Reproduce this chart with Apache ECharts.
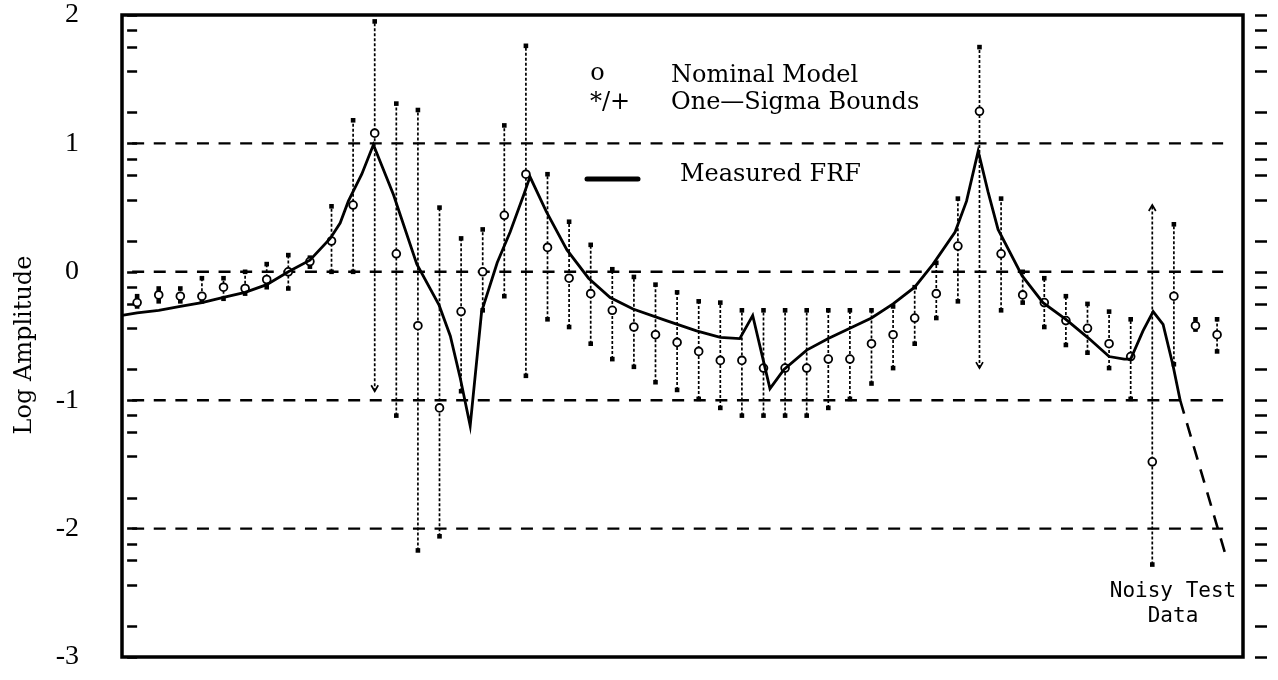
<!DOCTYPE html>
<html>
<head>
<meta charset="utf-8">
<title>Log Amplitude — Nominal Model vs Measured FRF</title>
<script src="https://cdn.jsdelivr.net/npm/echarts@6/dist/echarts.min.js"></script>
<style>
  html, body { margin: 0; padding: 0; background: #fff; }
  #chart { width: 1278px; height: 680px; }
</style>
</head>
<body>
<div id="chart"></div>
<script>
// ---- data ---------------------------------------------------------------
// Nominal model log-amplitude at each frequency bin (0..50)
const nominal = [
  -0.24, -0.18, -0.19, -0.19, -0.12, -0.13, -0.06, 0.00, 0.08, 0.24,
   0.52,  1.08,  0.14, -0.42, -1.06, -0.31,  0.00, 0.44, 0.76, 0.19,
  -0.05, -0.17, -0.30, -0.43, -0.49, -0.55, -0.62, -0.69, -0.69, -0.75,
  -0.75, -0.75, -0.68, -0.68, -0.56, -0.49, -0.36, -0.17, 0.20, 1.25,
   0.14, -0.18, -0.24, -0.38, -0.44, -0.56, -0.66, -1.48, -0.19, -0.42,
  -0.49
];
// One-sigma upper bounds
const upper = [
  -0.19, -0.13, -0.13, -0.05, -0.05, 0.00, 0.06, 0.13, 0.11, 0.51,
   1.18,  1.95,  1.31,  1.26,  0.50, 0.26, 0.33, 1.14, 1.76, 0.76,
   0.39,  0.21,  0.02, -0.04, -0.10, -0.16, -0.23, -0.24, -0.30, -0.30,
  -0.30, -0.30, -0.30, -0.30, -0.30, -0.27, -0.12, 0.07, 0.57, 1.75,
   0.57,  0.00, -0.05, -0.19, -0.25, -0.31, -0.37, 0.52, 0.37, -0.37,
  -0.37
];
// One-sigma lower bounds
const lower = [
  -0.27, -0.23, -0.23, -0.23, -0.21, -0.17, -0.12, -0.13, 0.04, 0.00,
   0.00, -0.93, -1.12, -2.17, -2.06, -0.93, -0.30, -0.19, -0.81, -0.37,
  -0.43, -0.56, -0.68, -0.74, -0.86, -0.92, -0.99, -1.06, -1.12, -1.12,
  -1.12, -1.12, -1.06, -0.99, -0.87, -0.75, -0.56, -0.36, -0.23, -0.75,
  -0.30, -0.24, -0.43, -0.57, -0.63, -0.75, -0.99, -2.28, -0.72, -0.45,
  -0.62
];
// Bins whose bound runs off and ends in an arrowhead
const arrowLowBins = [11, 39];
const arrowHighBins = [47];

// Measured FRF trace: [bin, log amplitude]
const frfCurve = [
  [-0.7, -0.34], [0, -0.32], [1, -0.30], [2, -0.27], [3, -0.24], [4, -0.20],
  [5, -0.16], [6, -0.10], [7, 0.00], [8, 0.09], [8.94, 0.26], [9.4, 0.38],
  [9.78, 0.55], [10.4, 0.76], [10.94, 0.99], [11.87, 0.60], [12.95, 0.06],
  [13.98, -0.26], [14.5, -0.50], [14.95, -0.82], [15.42, -1.20], [15.95, -0.31],
  [16.67, 0.07], [17.27, 0.31], [17.9, 0.60], [18.19, 0.74], [18.94, 0.47],
  [19.9, 0.17], [20.9, -0.05], [21.9, -0.20], [22.96, -0.29], [24.5, -0.38],
  [25.9, -0.46], [27.0, -0.51], [27.9, -0.52], [28.5, -0.34], [29.3, -0.91],
  [29.95, -0.76], [31.0, -0.61], [32.0, -0.52], [33.0, -0.44], [34.0, -0.36],
  [35.0, -0.25], [36.0, -0.12], [36.85, 0.06], [37.87, 0.31], [38.4, 0.55],
  [38.94, 0.94], [39.4, 0.62], [39.86, 0.33], [40.97, -0.03], [41.94, -0.24],
  [43.0, -0.37], [44.07, -0.52], [45.0, -0.66], [45.7, -0.68], [46.0, -0.68],
  [46.57, -0.46], [47.04, -0.31], [47.5, -0.41], [47.96, -0.73], [48.29, -1.00]
];
// Noisy test data continuation of the trace
const frfNoisyTail = [[48.29, -1.00], [50.42, -2.22]];

// Axis annotation
const majorTicks = [-3, -2, -1, 0, 1, 2];
const minorTickFractions = [0.24, 0.56, 0.75, 0.88];
const gridLevels = [1, 0, -1, -2];

// ---- derived ------------------------------------------------------------
const bins = nominal.map((_, i) => i);
const barData = bins.map(i => [i, lower[i], nominal[i], upper[i]]);

const tickValues = [];
majorTicks.forEach((m, k) => {
  tickValues.push(m);
  if (k < majorTicks.length - 1) minorTickFractions.forEach(f => tickValues.push(m + f));
});

// ---- layout ---------------------------------------------------------------
const X_MIN = -0.7, X_MAX = 51.2;
const GRID_X0 = -0.23, GRID_X1 = 50.28;
const INK = '#000';

function renderErrorBar(params, api) {
  const i = api.value(0);
  const pLo = api.coord([i, api.value(1)]);
  const pNom = api.coord([i, api.value(2)]);
  const pHi = api.coord([i, api.value(3)]);
  const children = [{
    type: 'line',
    shape: { x1: pLo[0], y1: pLo[1], x2: pHi[0], y2: pHi[1] },
    style: { stroke: INK, lineWidth: 1.7, lineDash: [3, 2] }
  }];
  const endMark = (p, arrowDir) => {
    if (arrowDir) {
      const d = arrowDir === 'down' ? -6 : 6;
      children.push({
        type: 'polyline',
        shape: { points: [[p[0] - 3.5, p[1] + d], [p[0], p[1]], [p[0] + 3.5, p[1] + d]] },
        style: { stroke: INK, lineWidth: 1.7, fill: null }
      });
    } else {
      children.push({
        type: 'rect',
        shape: { x: p[0] - 2.3, y: p[1] - 2.3, width: 4.6, height: 4.6 },
        style: { fill: INK }
      });
    }
  };
  endMark(pHi, arrowHighBins.includes(i) ? 'up' : null);
  endMark(pLo, arrowLowBins.includes(i) ? 'down' : null);
  children.push({
    type: 'circle',
    shape: { cx: pNom[0], cy: pNom[1], r: 3.9 },
    style: { fill: '#fff', stroke: INK, lineWidth: 1.8 }
  });
  return { type: 'group', children };
}

const gridSeries = gridLevels.map(v => ({
  type: 'line',
  data: [[GRID_X0, v], [GRID_X1, v]],
  symbol: 'none',
  silent: true,
  z: 1,
  lineStyle: { color: INK, width: 2.4, type: [12, 9.6] }
}));

const option = {
  animation: false,
  backgroundColor: '#fff',
  grid: {
    left: 122, right: 35, top: 15, bottom: 23,
    show: true, borderColor: INK, borderWidth: 3.5, backgroundColor: 'transparent'
  },
  xAxis: {
    type: 'value', min: X_MIN, max: X_MAX,
    axisLine: { show: false }, axisTick: { show: false },
    axisLabel: { show: false }, splitLine: { show: false }
  },
  yAxis: [
    {
      type: 'value', min: -3, max: 2, position: 'left', offset: 20,
      axisLine: { show: false },
      axisTick: { show: true, length: 10, customValues: tickValues,
                  lineStyle: { color: INK, width: 2.5 } },
      axisLabel: { customValues: majorTicks, margin: 23, color: INK,
                   fontFamily: 'Liberation Serif', fontSize: 28 },
      splitLine: { show: false }
    },
    {
      type: 'value', min: -3, max: 2, position: 'right', offset: 12,
      axisLine: { show: false },
      axisTick: { show: true, length: 12, customValues: tickValues,
                  lineStyle: { color: INK, width: 2.5 } },
      axisLabel: { show: false },
      splitLine: { show: false }
    }
  ],
  series: [
    ...gridSeries,
    {
      type: 'custom',
      name: 'Nominal Model',
      data: barData,
      encode: { x: 0, y: [1, 2, 3] },
      renderItem: renderErrorBar,
      z: 3
    },
    {
      type: 'line',
      name: 'Measured FRF',
      data: frfCurve,
      symbol: 'none',
      z: 4,
      lineStyle: { color: INK, width: 2.8, join: 'miter' }
    },
    {
      type: 'line',
      name: 'Noisy Test Data',
      data: frfNoisyTail,
      symbol: 'none',
      z: 4,
      lineStyle: { color: INK, width: 2.6, type: [14, 10] }
    }
  ],
  graphic: [
    { type: 'text', x: 24.5, y: 345, rotation: Math.PI / 2,
      style: { text: 'Log Amplitude', font: '24px "DejaVu Serif"', fill: INK,
               textAlign: 'center', textVerticalAlign: 'middle' } },
    { type: 'text', x: 597.5, y: 74,
      style: { text: 'o', font: '24px "DejaVu Serif"', fill: INK,
               textAlign: 'center', textVerticalAlign: 'middle' } },
    { type: 'text', x: 671, y: 76,
      style: { text: 'Nominal Model', font: '24px "DejaVu Serif"', fill: INK,
               textAlign: 'left', textVerticalAlign: 'middle' } },
    { type: 'text', x: 610, y: 103,
      style: { text: '*/+', font: '24px "DejaVu Serif"', fill: INK,
               textAlign: 'center', textVerticalAlign: 'middle' } },
    { type: 'text', x: 671, y: 103,
      style: { text: 'One\u2014Sigma Bounds', font: '24px "DejaVu Serif"', fill: INK,
               textAlign: 'left', textVerticalAlign: 'middle' } },
    { type: 'line', shape: { x1: 587, y1: 179, x2: 638, y2: 179 },
      style: { stroke: INK, lineWidth: 5, lineCap: 'round' } },
    { type: 'text', x: 680, y: 174.5,
      style: { text: 'Measured FRF', font: '24px "DejaVu Serif"', fill: INK,
               textAlign: 'left', textVerticalAlign: 'middle' } },
    { type: 'text', x: 1173, y: 592,
      style: { text: 'Noisy Test', font: '21px "DejaVu Sans Mono"', fill: INK,
               textAlign: 'center', textVerticalAlign: 'middle' } },
    { type: 'text', x: 1173, y: 617,
      style: { text: 'Data', font: '21px "DejaVu Sans Mono"', fill: INK,
               textAlign: 'center', textVerticalAlign: 'middle' } }
  ]
};

const chart = echarts.init(document.getElementById('chart'), null, { renderer: 'canvas' });
chart.setOption(option);
</script>
</body>
</html>
